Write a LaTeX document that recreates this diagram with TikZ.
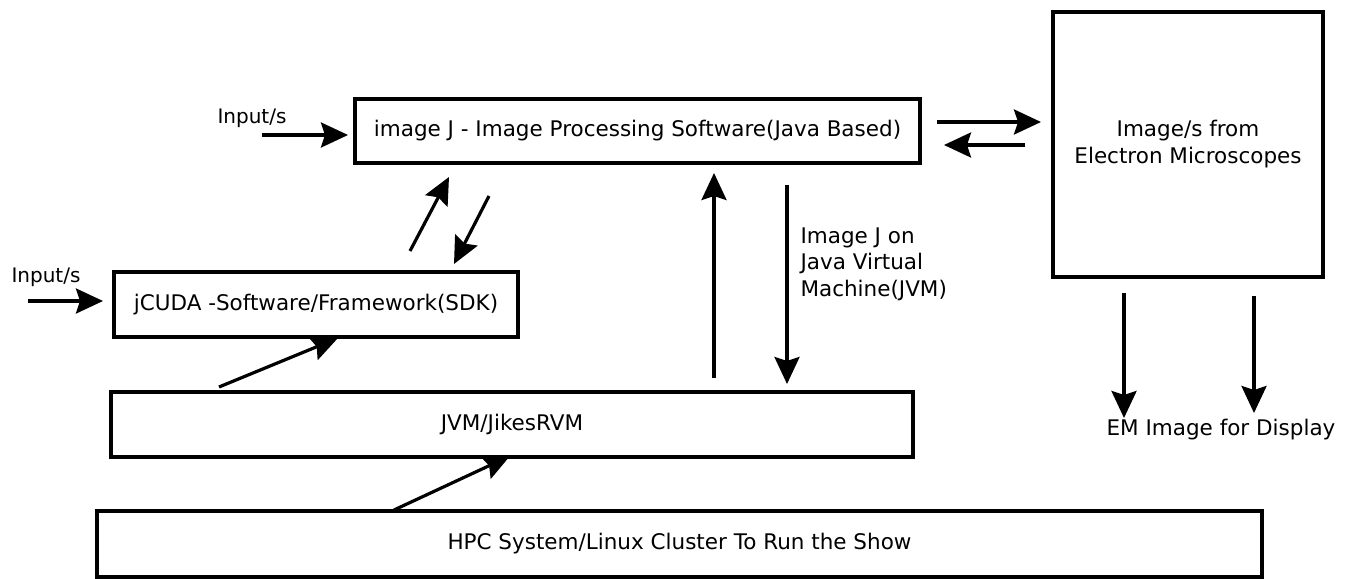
\documentclass[tikz,border=0pt]{standalone}
\usepackage{fontspec}
\setmainfont{DejaVu Sans}
\usetikzlibrary{arrows.meta,positioning}

\begin{document}
\begin{tikzpicture}[x=1pt,y=-1pt,
        every node/.style={font=\fontsize{21.5}{27}\selectfont},
        box/.style={draw,line width=3.2pt,inner sep=0pt,align=center},
        arr/.style={-{Stealth[length=27pt,width=25pt,inset=4pt]},line width=3.2pt}]
        \useasboundingbox (0,0) rectangle (1348,578);
        % boxes
        \node[box,minimum width=565pt,minimum height=64pt] (ij) at (637.5,131) {image J - Image Processing Software(Java Based)};
        \node[box,minimum width=270pt,minimum height=265pt] (em) at (1188,144.5) {Image/s from\\Electron Microscopes};
        \node[box,minimum width=404pt,minimum height=65pt] (jc) at (316,304.5) {jCUDA -Software/Framework(SDK)};
        \node[box,minimum width=802pt,minimum height=65pt] (jvm) at (512,424.5) {JVM/JikesRVM};
        \node[box,minimum width=1165pt,minimum height=66pt] (hpc) at (679.5,544) {HPC System/Linux Cluster To Run the Show};
        % texts
        \node[font=\fontsize{20}{24}\selectfont] (in1) at (252,118) {Input/s};
        \node[font=\fontsize{20}{24}\selectfont] (in2) at (46,277) {Input/s};
        \node[align=left,anchor=north west,font=\fontsize{21.5}{26.5}\selectfont] (onjvm) at (797,224) {Image J on\\Java Virtual\\Machine(JVM)};
        \node (disp) at (1221,430) {EM Image for Display};
        % arrow ends
        \coordinate (A1) at (262,135);  \coordinate (A2) at (348,135);
        \coordinate (B1) at (28,301);   \coordinate (B2) at (103,301);
        \coordinate (U1) at (410,251);  \coordinate (U2) at (449,177);
        \coordinate (D1) at (489,196);  \coordinate (D2) at (454,264);
        \coordinate (R1) at (937,122);  \coordinate (R2) at (1041,122);
        \coordinate (L1) at (1025,145); \coordinate (L2) at (944,145);
        \coordinate (V1) at (714,378);  \coordinate (V2) at (714,173);
        \coordinate (W1) at (787,185);  \coordinate (W2) at (787,384);
        \coordinate (C1) at (219,387);  \coordinate (C2) at (338,338);
        \coordinate (H1) at (394,510);  \coordinate (H2) at (510,456);
        \coordinate (E1) at (1124,293); \coordinate (E2) at (1124,418);
        \coordinate (F1) at (1254,296); \coordinate (F2) at (1254,413);
        % arrows
        \foreach \s/\t in {A1/A2,B1/B2,U1/U2,D1/D2,R1/R2,L1/L2,V1/V2,W1/W2,C1/C2,H1/H2,E1/E2,F1/F2}
            \draw[arr] (\s) -- (\t);
\end{tikzpicture}
\end{document}
